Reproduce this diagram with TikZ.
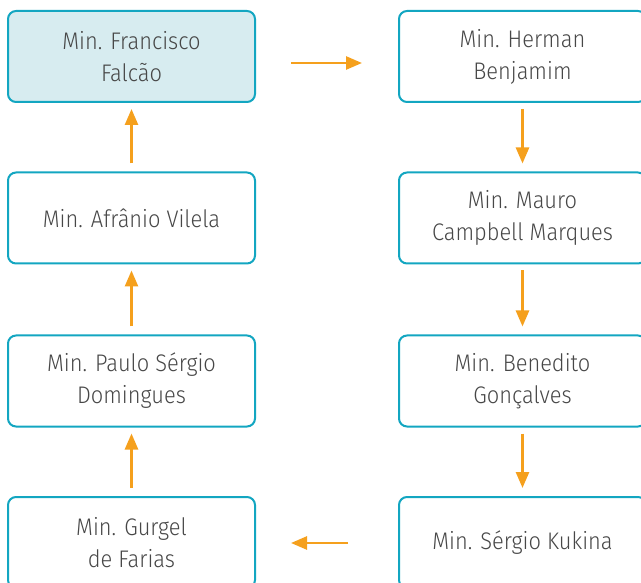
\documentclass[tikz,border=0pt]{standalone}
\usepackage{fontspec}
\setmainfont{Fira Sans}[UprightFont=* Light,FakeStretch=0.91]
\usetikzlibrary{arrows.meta}
\definecolor{boxline}{HTML}{13A6C1}
\definecolor{boxfill}{HTML}{D7ECF0}
\definecolor{arr}{HTML}{F5A01D}
\definecolor{txt}{HTML}{474747}
\begin{document}
\begin{tikzpicture}[x=1pt,y=-1pt,
  box/.style={draw=boxline,line width=2pt,rounded corners=8pt,minimum width=247pt,minimum height=91pt,
    align=center,text=txt,font=\fontsize{24}{32}\selectfont,inner sep=0pt},
  hl/.style={fill=boxfill},
  flow/.style={draw=arr,line width=2.6pt,-{Triangle[length=16pt,width=13pt]}}]
\useasboundingbox (0,0) rectangle (641,583);
\node[box,hl] (ff) at (131.5,56.5) {Min. Francisco\\Falcão};
\node[box] (av) at (131.5,218) {Min. Afrânio Vilela};
\node[box] (ps) at (131.5,381) {Min. Paulo Sérgio\\Domingues};
\node[box] (gf) at (131.5,542.5) {Min. Gurgel\\de Farias};
\node[box] (hb) at (522.5,56.5) {Min. Herman\\Benjamim};
\node[box] (mc) at (522.5,218) {Min. Mauro\\Campbell Marques};
\node[box] (bg) at (522.5,381) {Min. Benedito\\Gonçalves};
\node[box] (sk) at (522.5,542.5) {Min. Sérgio Kukina};
\draw[flow] ([yshift=8pt]av.north) -- ([yshift=-6pt]ff.south);
\draw[flow] ([yshift=8pt]ps.north) -- ([yshift=-6pt]av.south);
\draw[flow] ([yshift=8pt]gf.north) -- ([yshift=-6pt]ps.south);
\draw[flow] ([yshift=-6pt]hb.south) -- ([yshift=8pt]mc.north);
\draw[flow] ([yshift=-6pt]mc.south) -- ([yshift=8pt]bg.north);
\draw[flow] ([yshift=-6pt]bg.south) -- ([yshift=8pt]sk.north);
\coordinate (t1) at (291,63);
\coordinate (t2) at (362,63);
\coordinate (b1) at (348,543);
\coordinate (b2) at (291,543);
\draw[flow] (t1) -- (t2);
\draw[flow] (b1) -- (b2);
\end{tikzpicture}
\end{document}
